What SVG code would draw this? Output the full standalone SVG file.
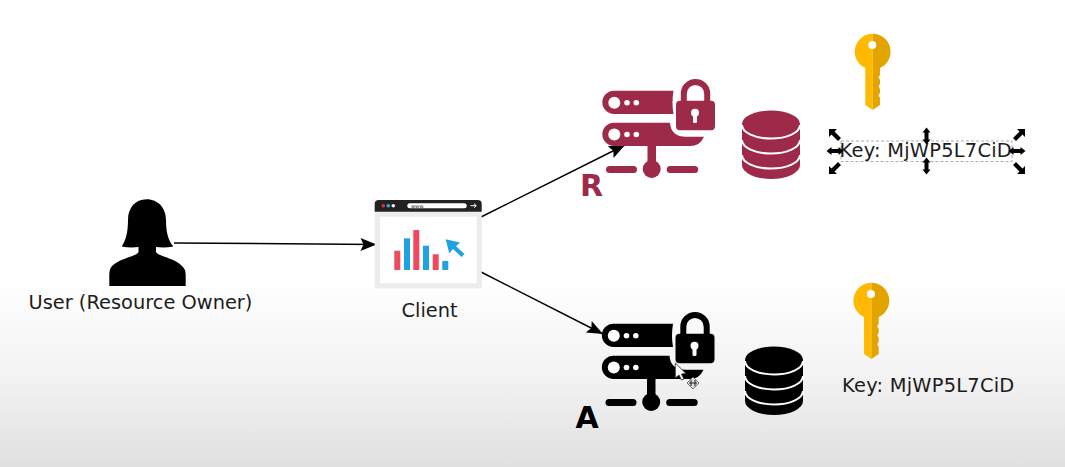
<svg xmlns="http://www.w3.org/2000/svg" xmlns:xlink="http://www.w3.org/1999/xlink" width="1065" height="467" viewBox="0 0 1065 467">
<style>
text{font-family:"DejaVu Sans",Verdana,sans-serif;fill:#1c1c1c}
.lbl{font-size:19.4px}
.key{letter-spacing:0.25px}
.big{font-family:"DejaVu Sans",Verdana,sans-serif;font-size:30px;font-weight:700}
.conn{fill:none;stroke:#000;stroke-width:1.5;marker-end:url(#arrow)}
.hole{fill:#fff}
.bred{fill:#f0485f}
.bblue{fill:#1fa3e0}
.handle{fill:#000}
</style>
<defs>
<linearGradient id="bg" x1="0" y1="0" x2="0" y2="1">
<stop offset="0" stop-color="#fff"/><stop offset="0.6" stop-color="#fff"/><stop offset="0.8" stop-color="#f3f3f3"/><stop offset="1" stop-color="#e0e0e0"/>
</linearGradient>
<marker id="arrow" markerUnits="userSpaceOnUse" markerWidth="20" markerHeight="14" refX="16" refY="6.5" orient="auto" overflow="visible">
<path d="M0,0L16,6.5L0,13L3,6.5Z" fill="#000"/>
</marker>
<g id="server">
<path d="M614,90.7H673.5Q671.5,103 673.5,114H614A11.6,11.6 0 0 1 614,90.7Z"/>
<path d="M614,122.7H670Q671,136.7 686,136.7H704Q700,146 690,146H614A11.6,11.6 0 0 1 614,122.7Z"/>
<circle class="hole" cx="614.3" cy="102.7" r="6"/><circle class="hole" cx="627" cy="102.7" r="2.8"/><circle class="hole" cx="636.3" cy="102.7" r="2.8"/>
<circle class="hole" cx="614.3" cy="134.5" r="6"/><circle class="hole" cx="627" cy="134.5" r="2.8"/><circle class="hole" cx="636.3" cy="134.5" r="2.8"/>
<rect x="647.5" y="145" width="8.5" height="20"/>
<circle cx="651.7" cy="169" r="9"/>
<rect x="606" y="166" width="31" height="7" rx="3.5"/>
<rect x="666.7" y="166" width="31.5" height="7" rx="3.5"/>
<path d="M683.8,102V93.7A11.7,11.7 0 0 1 707.2,93.7V102" fill="none" stroke="currentColor" stroke-width="6"/>
<rect x="676" y="100.7" width="39" height="29.5" rx="4"/>
<circle class="hole" cx="695" cy="112.7" r="4"/>
<rect class="hole" x="693" y="113" width="4" height="10" rx="1.5"/>
</g>
<g id="db">
<path d="M742,124V165A29,14 0 0 0 800,165V124Z"/>
<ellipse cx="771" cy="124" rx="29" ry="13.5"/>
<path d="M742,125A29,13.5 0 0 0 800,125M742,140A29,13.5 0 0 0 800,140M742,155A29,13.5 0 0 0 800,155" fill="none" stroke="#fff" stroke-width="2"/>
</g>
<g id="key">
<path d="M872.7,33.7A18,18 0 0 0 865.3,68.1V105L872.7,110Z" fill="#ffb900"/>
<path d="M872.7,33.7A18,18 0 0 1 880,68.1V75L878.5,77L880,80V84L878.5,86L880,89V93L878.5,95L880,98V105L872.7,110Z" fill="#e3a400"/>
<circle class="hole" cx="872.3" cy="45" r="4"/>
</g>
<g id="h-d"><path class="handle" d="M0,-8.5L4,-3.5H2V3.5H4L0,8.5L-4,3.5H-2V-3.5H-4Z"/></g>
<g id="h-c"><path class="handle" d="M-7,-7H1L-1.5,-4.5L5,2L2,5L-4.5,-1.5L-7,1Z"/></g>
</defs>
<rect id="background" width="1065" height="467" fill="url(#bg)"/>

<g id="connectors">
<path class="conn" d="M174,243L376.5,244.5"/>
<path class="conn" d="M481,217L625,145"/>
<path class="conn" d="M481,272L603,334"/>
</g>

<g id="user">
<path d="M146.7,199.3C135,199.3 128,208 128,220C128,232 126,240 121.7,246.5Q130,248 138.5,247V252C138,256 120,258 112,266Q109.3,269 109.3,275V286H185.7V275Q185.7,269 182,266C175,258 157,256 156,252V247Q165,248 173.3,246.5C168,240 166,232 166,220C166,208 158,199.3 146.7,199.3Z" fill="#000"/>
<text class="lbl" x="28.5" y="308.5">User (Resource Owner)</text>
</g>

<g id="client">
<rect x="374.7" y="200" width="107" height="88.5" rx="2" fill="#ececec"/>
<path d="M374.7,211.7V204Q374.7,200 379,200H477.5Q481.7,200 481.7,204V211.7Z" fill="#222"/>
<rect x="380" y="216.7" width="96.7" height="66.6" fill="#fff"/>
<circle cx="383.3" cy="205.7" r="1.8" fill="#e0303a"/><circle cx="388.3" cy="205.7" r="1.8" fill="#35a8e0"/><circle cx="393.3" cy="205.7" r="1.8" fill="#eee"/>
<rect x="407.3" y="203.3" width="59.4" height="5" rx="2.5" fill="#fff"/>
<text x="411" y="207.6" font-size="5">www.</text>
<path d="M470.5,205.7H476M474,203.7L476.3,205.7L474,207.7" fill="none" stroke="#fff" stroke-width="1"/>
<rect class="bred" x="394.3" y="250.7" width="6" height="19.3"/>
<rect class="bblue" x="404" y="238.3" width="6" height="31.7"/>
<rect class="bred" x="413.3" y="230" width="6" height="40"/>
<rect class="bblue" x="423" y="245.7" width="6" height="24.3"/>
<rect class="bred" x="432.7" y="254.3" width="6" height="15.7"/>
<rect class="bblue" x="442.3" y="261" width="6" height="9"/>
<path class="bblue" d="M445.7,239.3L460,242.5L456,246.3L464.5,254L461.5,257L453,249L449.3,253.3Z"/>
<text class="lbl" x="401.5" y="317">Client</text>
</g>

<g id="resource-server" fill="#9e2a49" color="#9e2a49">
<use href="#server"/>
<text class="big" x="580" y="196" style="fill:#9e2a49">R</text>
</g>
<g id="resource-db" fill="#9e2a49"><use href="#db"/></g>

<g id="key-r"><use href="#key"/></g>
<g id="key-r-label">
<rect x="841" y="141" width="171" height="20.5" fill="none" stroke="#999" stroke-width="0.8" stroke-dasharray="3 2"/>
<text class="lbl key" x="839.5" y="157">Key: MjWP5L7CiD</text>
<use href="#h-c" x="836" y="136"/>
<use href="#h-c" transform="translate(1018,136) scale(-1,1)"/>
<use href="#h-c" transform="translate(836,167) scale(1,-1)"/>
<use href="#h-c" transform="translate(1018,167) scale(-1,-1)"/>
<use href="#h-d" x="926.5" y="136"/>
<use href="#h-d" x="926.5" y="166"/>
<use href="#h-d" transform="translate(835,151) rotate(90)"/>
<use href="#h-d" transform="translate(1017,151) rotate(90)"/>
</g>

<g id="auth-server" fill="#000" color="#000">
<use href="#server" transform="translate(-0.5,233)"/>
<text class="big" x="575.5" y="428" style="fill:#000">A</text>
</g>
<g id="auth-db" fill="#000"><use href="#db" transform="translate(3,236)"/></g>

<g id="key-a"><use href="#key" transform="translate(-1.3,249)"/></g>
<g id="key-a-label"><text class="lbl key" x="842" y="392">Key: MjWP5L7CiD</text></g>

<g id="cursor">
<path d="M675.3,363V378L679,375L681.5,380L684,379L681.5,374L686,373.5Z" fill="#fff" stroke="#222" stroke-width="0.8"/>
<path d="M693,377L699,383L693,389L687,383Z" fill="#ddd" stroke="#555" stroke-width="0.8"/>
<path d="M691,380V386M695,380V386M689,383H697" stroke="#222" stroke-width="1" fill="none"/>
</g>
</svg>
